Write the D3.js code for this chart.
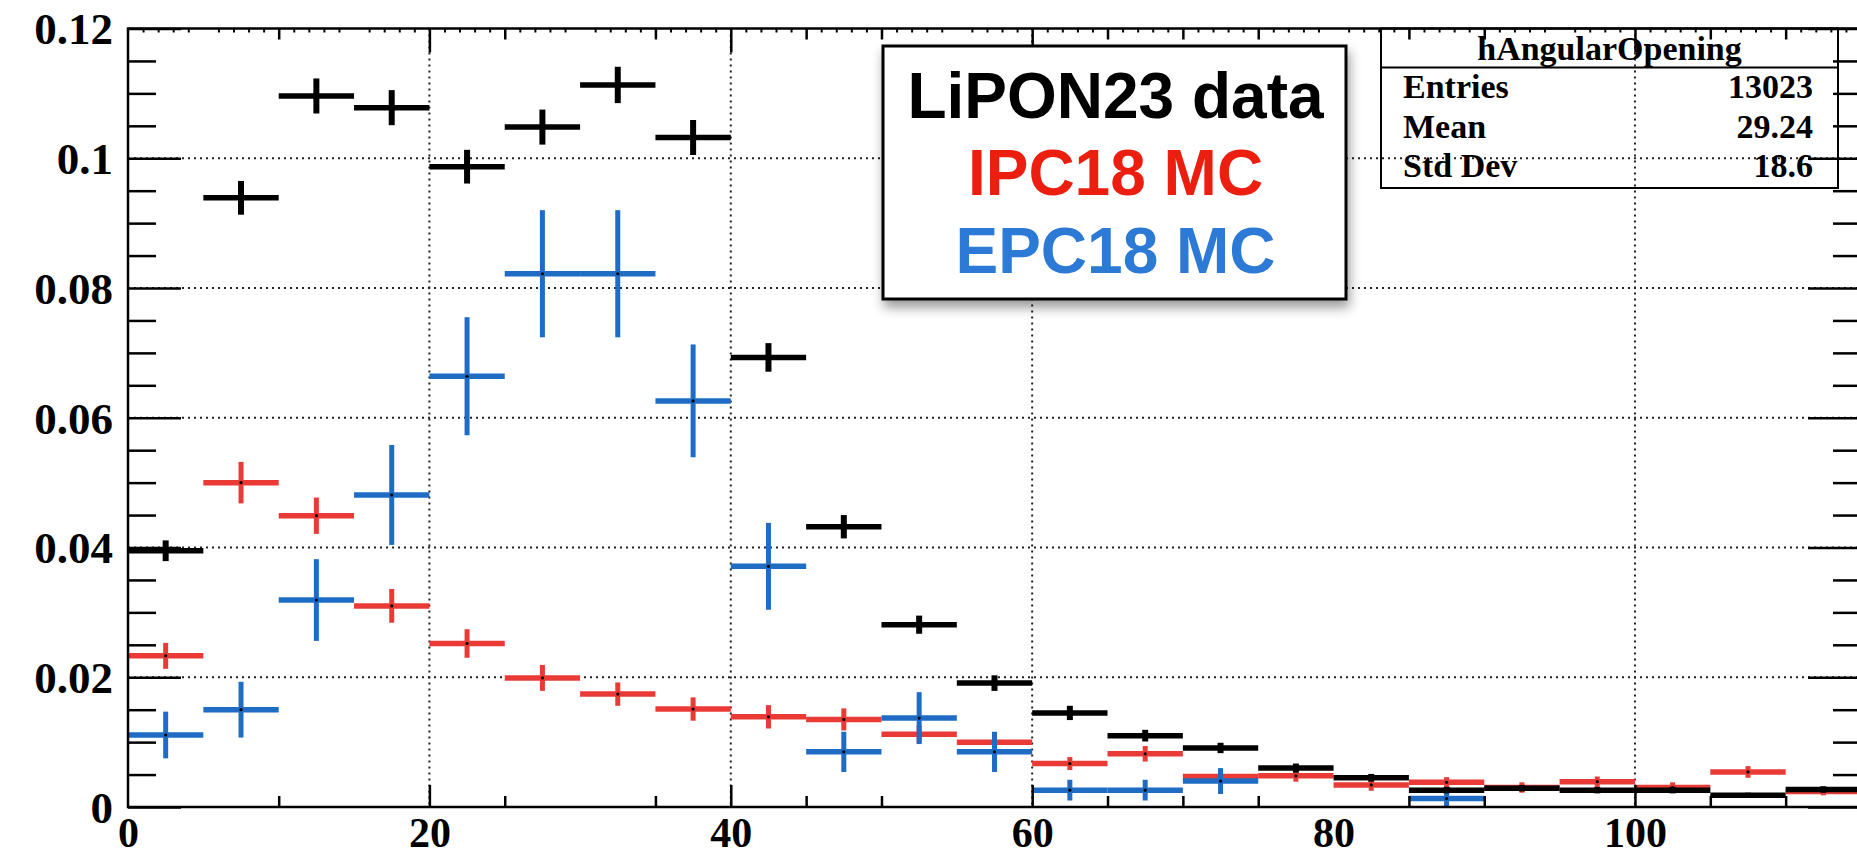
<!DOCTYPE html>
<head>
  <meta charset="utf-8">
  <script src="https://d3js.org/d3.v7.min.js"></script>
  <style>
body { margin: 0; background: #fff; }
svg { display: block; }
.root text {
    font-family: "Liberation Serif", "Times New Roman", serif;
    font-weight: bold;
    fill: #000;
}
.axis path { display: none; }
.axis line { stroke: #000; stroke-width: 2.5; }
.legend text {
    font-family: "Liberation Sans", Arial, sans-serif;
    font-weight: bold;
}
  </style>
</head>
<body>
<svg width="1857" height="857"></svg>
<script>
// bins of 5 deg, lower edges
var binLow = [0, 5, 10, 15, 20, 25, 30, 35, 40, 45, 50, 55, 60, 65, 70, 75, 80, 85, 90, 95, 100, 105, 110];
var binWidth = 5;

// LiPON23 data (black)
var dataVals = [0.0395, 0.0939, 0.1096, 0.1078, 0.0987, 0.1048, 0.1113, 0.1032, 0.0693, 0.0432, 0.0281, 0.0191,
                0.0145, 0.0110, 0.0091, 0.0060, 0.0045, 0.0026, 0.0029, 0.0026, 0.0026, 0.0018, 0.0027];
var dataErr  = [0.0016, 0.0026, 0.0027, 0.0027, 0.0026, 0.0027, 0.0028, 0.0027, 0.0022, 0.0018, 0.0014, 0.0012,
                0.0011, 0.0009, 0.0008, 0.0007, 0.0006, 0.0005, 0.0005, 0.0005, 0.0005, 0.0004, 0.0005];

// IPC18 MC (red)
var ipcVals = [0.0233, 0.0500, 0.0449, 0.0310, 0.0252, 0.0199, 0.0174, 0.0151, 0.0139, 0.0135, 0.0112, 0.0100,
               0.0067, 0.0082, 0.0047, 0.0048, 0.0034, 0.0038, 0.0030, 0.0039, 0.0030, 0.0054, 0.0024];
var ipcErr  = [0.0020, 0.0032, 0.0028, 0.0026, 0.0022, 0.0020, 0.0018, 0.0018, 0.0018, 0.0017, 0.0014, 0.0013,
               0.0010, 0.0012, 0.0009, 0.0009, 0.0009, 0.0008, 0.0008, 0.0008, 0.0008, 0.0009, 0.0006];

// EPC18 MC (blue), null = empty bin
var epcVals = [0.0111, 0.0150, 0.0319, 0.0481, 0.0664, 0.0822, 0.0822, 0.0626, 0.0371, 0.0085, 0.0137, 0.0085,
               0.0026, 0.0026, 0.0040, null, null, 0.0013, null, null, null, null, null];
var epcErr  = [0.0036, 0.0043, 0.0063, 0.0077, 0.0091, 0.0098, 0.0098, 0.0087, 0.0067, 0.0031, 0.0040, 0.0031,
               0.0016, 0.0016, 0.0020, null, null, 0.0014, null, null, null, null, null];

var xLabelTicks = [0, 20, 40, 60, 80, 100];
var xMajorTicks = [20, 40, 60, 100];
var xMinorTicks = [10, 25, 35, 45, 50, 65, 70, 75, 85, 90, 105, 110];
var xGridTicks  = [20, 40, 60, 100];
var yMajorTicks = [0, 0.02, 0.04, 0.06, 0.08, 0.1, 0.12];
var yTickLabels = ["0", "0.02", "0.04", "0.06", "0.08", "0.1", "0.12"];
var yMinorTicks = [0.005, 0.01, 0.015, 0.025, 0.03, 0.035, 0.045, 0.05, 0.055, 0.065, 0.07, 0.075,
                   0.085, 0.09, 0.095, 0.105, 0.11, 0.115];
var yGridTicks  = [0.02, 0.04, 0.06, 0.08, 0.1];

var statsTitle  = "hAngularOpening";
var statsNames  = ["Entries", "Mean", "Std Dev"];
var statsValues = ["13023", "29.24", "18.6"];

var legendLabels = ["LiPON23 data", "IPC18 MC", "EPC18 MC"];
var legendColors = ["#000000", "#ec1e0f", "#2c79d6"];

var frame = {left: 128, right: 1861, top: 28.5, bottom: 807};

var x = d3.scaleLinear().domain([0, 115]).range([frame.left, frame.right]);
var y = d3.scaleLinear().domain([0, 0.12]).range([frame.bottom, frame.top]);

var svg = d3.select("svg").append("g").attr("class", "root");

// grid
var grid = svg.append("g")
    .attr("stroke", "#222")
    .attr("stroke-width", 2)
    .attr("stroke-dasharray", "2,4");
grid.selectAll("line.gy")
  .data(yGridTicks)
  .enter().append("line")
    .attr("class", "gy")
    .attr("x1", frame.left).attr("x2", frame.right)
    .attr("y1", function(d) { return y(d); })
    .attr("y2", function(d) { return y(d); });
grid.selectAll("line.gx")
  .data(xGridTicks)
  .enter().append("line")
    .attr("class", "gx")
    .attr("y1", frame.top).attr("y2", frame.bottom)
    .attr("x1", function(d) { return x(d); })
    .attr("x2", function(d) { return x(d); });

// stats box (no fill, grid shows through)
var sb = {x1: 1381, x2: 1838, top: frame.top, sep: 67.5, bottom: 188};
var stats = svg.append("g");
stats.append("rect")
    .attr("x", sb.x1).attr("y", sb.top)
    .attr("width", sb.x2 - sb.x1).attr("height", sb.bottom - sb.top)
    .attr("fill", "none").attr("stroke", "#000").attr("stroke-width", 2);
stats.append("line")
    .attr("x1", sb.x1).attr("x2", sb.x2)
    .attr("y1", sb.sep).attr("y2", sb.sep)
    .attr("stroke", "#000").attr("stroke-width", 2);
stats.append("text")
    .attr("x", (sb.x1 + sb.x2) / 2).attr("y", 60)
    .attr("text-anchor", "middle")
    .style("font-size", "34px")
    .text(statsTitle);
statsNames.forEach(function(n, i) {
  stats.append("text")
      .attr("x", 1403).attr("y", 98 + i * 39.5)
      .style("font-size", "34px")
      .text(n);
  stats.append("text")
      .attr("x", 1813).attr("y", 98 + i * 39.5)
      .attr("text-anchor", "end")
      .style("font-size", "34px")
      .text(statsValues[i]);
});

// histograms with error bars
function drawHist(vals, errs, color, hw, vw, dots) {
  var g = svg.append("g").attr("stroke", color);
  var rows = binLow.map(function(b, i) { return {lo: b, v: vals[i], e: errs[i]}; })
      .filter(function(d) { return d.v != null; });
  g.selectAll("line.h")
    .data(rows)
    .enter().append("line")
      .attr("class", "h")
      .attr("stroke-width", hw)
      .attr("x1", function(d) { return x(d.lo); })
      .attr("x2", function(d) { return x(d.lo + binWidth); })
      .attr("y1", function(d) { return y(d.v); })
      .attr("y2", function(d) { return y(d.v); });
  g.selectAll("line.v")
    .data(rows)
    .enter().append("line")
      .attr("class", "v")
      .attr("stroke-width", vw)
      .attr("x1", function(d) { return x(d.lo + binWidth / 2); })
      .attr("x2", function(d) { return x(d.lo + binWidth / 2); })
      .attr("y1", function(d) { return y(d.v - d.e); })
      .attr("y2", function(d) { return y(d.v + d.e); });
  if (dots) {
    g.selectAll("circle")
      .data(rows)
      .enter().append("circle")
        .attr("stroke", "none")
        .attr("fill", "#000")
        .attr("r", 1.6)
        .attr("cx", function(d) { return x(d.lo + binWidth / 2); })
        .attr("cy", function(d) { return y(d.v); });
  }
}
drawHist(ipcVals, ipcErr, "#e93a35", 5.5, 5, true);
drawHist(epcVals, epcErr, "#1f6cc5", 5.5, 5, true);
drawHist(dataVals, dataErr, "#000", 5.5, 6, false);

// frame
svg.append("rect")
    .attr("x", frame.left).attr("y", frame.top)
    .attr("width", frame.right - frame.left).attr("height", frame.bottom - frame.top)
    .attr("fill", "none").attr("stroke", "#000").attr("stroke-width", 2.5);

// x axis ticks bottom / top
svg.append("g").attr("class", "axis")
    .attr("transform", "translate(0," + frame.bottom + ")")
    .call(d3.axisTop(x).tickValues(xMajorTicks).tickSize(22).tickFormat(""));
svg.append("g").attr("class", "axis")
    .attr("transform", "translate(0," + frame.bottom + ")")
    .call(d3.axisTop(x).tickValues(xMinorTicks).tickSize(11).tickFormat(""));
svg.append("g").attr("class", "axis")
    .attr("transform", "translate(0," + frame.top + ")")
    .call(d3.axisBottom(x).tickValues(xMajorTicks).tickSize(24).tickFormat(""));
svg.append("g").attr("class", "axis")
    .attr("transform", "translate(0," + frame.top + ")")
    .call(d3.axisBottom(x).tickValues(xMinorTicks).tickSize(11).tickFormat(""));
svg.append("g").attr("class", "axis tiny")
    .attr("transform", "translate(0," + frame.top + ")")
    .call(d3.axisBottom(x).tickValues(d3.range(1, 115).filter(function(v) { return v % 5; }))
      .tickSize(4).tickFormat(""))
  .selectAll("line").style("stroke-width", 2);

// x labels
var xl = svg.append("g").attr("class", "axis")
    .attr("transform", "translate(0," + frame.bottom + ")")
    .call(d3.axisBottom(x).tickValues(xLabelTicks).tickSize(0).tickPadding(0));
xl.selectAll("line").remove();
xl.selectAll("text")
    .attr("dy", null).attr("y", 40)
    .attr("fill", "#000")
    .style("font-family", '"Liberation Serif", serif')
    .style("font-weight", "bold")
    .style("font-size", "42px");

// y axis ticks left / right
svg.append("g").attr("class", "axis")
    .attr("transform", "translate(" + frame.left + ",0)")
    .call(d3.axisRight(y).tickValues(yMajorTicks).tickSize(53).tickFormat(""));
svg.append("g").attr("class", "axis")
    .attr("transform", "translate(" + frame.left + ",0)")
    .call(d3.axisRight(y).tickValues(yMinorTicks).tickSize(28).tickFormat(""));
svg.append("g").attr("class", "axis")
    .attr("transform", "translate(" + frame.right + ",0)")
    .call(d3.axisLeft(y).tickValues(yMajorTicks).tickSize(53).tickFormat(""));
svg.append("g").attr("class", "axis")
    .attr("transform", "translate(" + frame.right + ",0)")
    .call(d3.axisLeft(y).tickValues(yMinorTicks).tickSize(28).tickFormat(""));

// y labels
var yl = svg.append("g").attr("class", "axis")
    .attr("transform", "translate(" + (frame.left - 15) + ",0)")
    .call(d3.axisLeft(y).tickValues(yMajorTicks).tickSize(0).tickPadding(0)
      .tickFormat(function(d, i) { return yTickLabels[i]; }));
yl.selectAll("line").remove();
yl.selectAll("text")
    .attr("dy", "0.34em")
    .attr("fill", "#000")
    .style("font-family", '"Liberation Serif", serif')
    .style("font-weight", "bold")
    .style("font-size", "45px");

// legend box
var defs = d3.select("svg").append("defs");
var f = defs.append("filter").attr("id", "shadow")
    .attr("x", "-10%").attr("y", "-10%").attr("width", "130%").attr("height", "130%");
f.append("feDropShadow")
    .attr("dx", 2).attr("dy", 7).attr("stdDeviation", 6)
    .attr("flood-color", "#000").attr("flood-opacity", 0.4);

var lb = {x1: 883, x2: 1346, top: 46, bottom: 299};
var legend = d3.select("svg").append("g").attr("class", "legend");
legend.append("rect")
    .attr("x", lb.x1).attr("y", lb.top)
    .attr("width", lb.x2 - lb.x1).attr("height", lb.bottom - lb.top)
    .attr("fill", "#fff").attr("stroke", "#000").attr("stroke-width", 3)
    .attr("filter", "url(#shadow)");
legend.selectAll("text")
  .data(legendLabels)
  .enter().append("text")
    .attr("x", (lb.x1 + lb.x2) / 2 + 1)
    .attr("y", function(d, i) { return 118 + i * 77.3; })
    .attr("text-anchor", "middle")
    .attr("fill", function(d, i) { return legendColors[i]; })
    .style("font-size", "64px")
    .text(function(d) { return d; });
</script>
</body>
